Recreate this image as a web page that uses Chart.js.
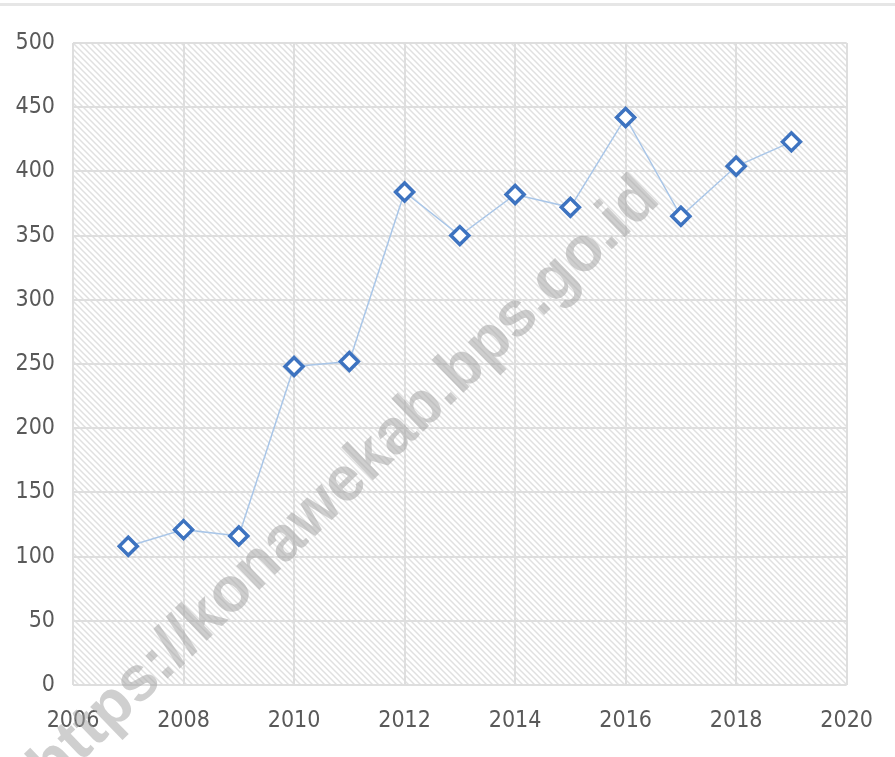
<!DOCTYPE html>
<html>
<head>
<meta charset="utf-8">
<script src="https://cdn.jsdelivr.net/npm/chart.js@4"></script>
<style>
  html, body { margin: 0; padding: 0; background: #fff; }
  .wrap { position: relative; width: 895px; height: 757px; }
  .wrap:before { content: ''; position: absolute; left: 0; right: 0; top: 3px; height: 3px; background: #e6e6e6; }
  canvas { display: block; }
</style>
</head>
<body>
<div class="wrap"><canvas id="chart" width="895" height="757"></canvas></div>
<script>
const years = [2007, 2008, 2009, 2010, 2011, 2012, 2013, 2014, 2015, 2016, 2017, 2018, 2019];
const values = [108, 121, 116, 248, 252, 384, 350, 382, 372, 442, 365, 404, 423];
const xTicks = [2006, 2008, 2010, 2012, 2014, 2016, 2018, 2020];
const yTicks = [0, 50, 100, 150, 200, 250, 300, 350, 400, 450, 500];

const labelFont = { family: "'DejaVu Sans Condensed', 'Liberation Sans', sans-serif", size: 23 };
const labelColor = '#595959';

// diagonal hatch for the plot area
function makeHatch(ctx) {
  const c = document.createElement('canvas');
  c.width = 6; c.height = 6;
  const p = c.getContext('2d');
  p.fillStyle = '#ffffff';
  p.fillRect(0, 0, 6, 6);
  p.strokeStyle = '#e0e0e0';
  p.lineWidth = 1.5;
  p.beginPath();
  p.moveTo(-1, -1); p.lineTo(7, 7);
  p.moveTo(-4, 2); p.lineTo(4, 10);
  p.moveTo(2, -4); p.lineTo(10, 4);
  p.stroke();
  return ctx.createPattern(c, 'repeat');
}

const plotBg = {
  id: 'plotBg',
  beforeDraw(chart) {
    const { ctx, chartArea: a } = chart;
    ctx.save();
    ctx.fillStyle = makeHatch(ctx);
    ctx.fillRect(a.left, a.top, a.right - a.left, a.bottom - a.top);
    ctx.restore();
  }
};

const watermark = {
  id: 'watermark',
  afterDraw(chart) {
    const { ctx } = chart;
    ctx.save();
    ctx.translate(345, 483);
    ctx.rotate(-44 * Math.PI / 180);
    ctx.font = "bold 63px 'Liberation Sans', Arial, sans-serif";
    ctx.fillStyle = 'rgba(160,160,160,0.5)';
    ctx.textAlign = 'center';
    ctx.textBaseline = 'middle';
    ctx.fillText('https://konawekab.bps.go.id', 0, 0);
    ctx.restore();
  }
};

new Chart(document.getElementById('chart'), {
  type: 'line',
  data: {
    datasets: [{
      data: years.map((y, i) => ({ x: y, y: values[i] })),
      borderColor: '#a9c6e8',
      borderWidth: 1.5,
      pointStyle: 'rectRot',
      pointRadius: 9,
      pointBorderWidth: 3.5,
      pointBorderColor: '#3d73c0',
      pointBackgroundColor: '#ffffff',
      tension: 0
    }]
  },
  options: {
    responsive: false,
    animation: false,
    layout: { padding: { top: 43, right: 47, left: 0, bottom: 0 } },
    plugins: { legend: { display: false }, tooltip: { enabled: false } },
    scales: {
      x: {
        type: 'linear',
        min: 2006, max: 2020,
        afterBuildTicks: s => { s.ticks = xTicks.map(v => ({ value: v })); },
        afterFit: s => { s.height = 72; },
        grid: { color: '#dedede', lineWidth: 2, drawTicks: false },
        border: { display: false },
        ticks: { color: labelColor, font: labelFont, padding: 22, maxRotation: 0, callback: v => String(v) }
      },
      y: {
        min: 0, max: 500,
        afterBuildTicks: s => { s.ticks = yTicks.map(v => ({ value: v })); },
        afterFit: s => { s.width = 73; },
        grid: { color: '#dedede', lineWidth: 2, drawTicks: false },
        border: { display: false },
        ticks: { color: labelColor, font: labelFont, padding: 18 }
      }
    }
  },
  plugins: [plotBg, watermark]
});
</script>
</body>
</html>
